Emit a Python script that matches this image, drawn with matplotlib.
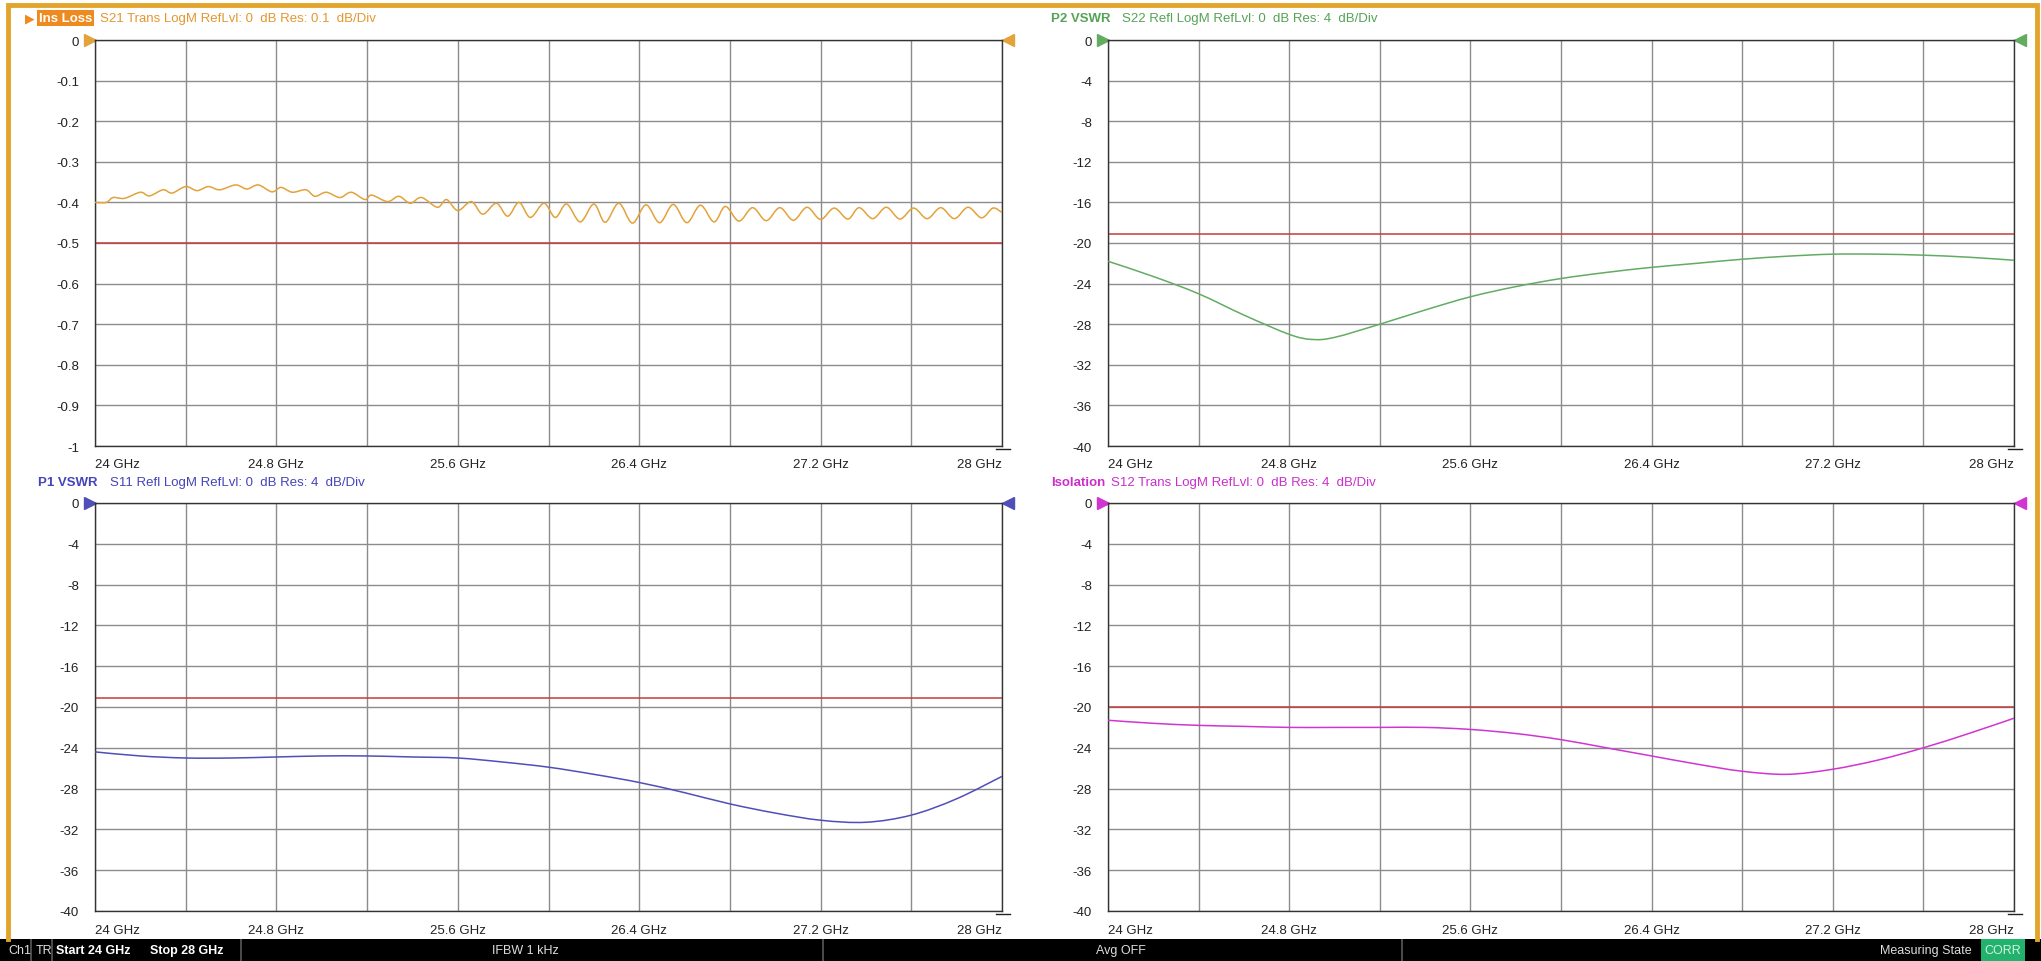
import matplotlib
matplotlib.use("Agg")
import matplotlib.pyplot as plt
from matplotlib.lines import Line2D
from matplotlib.patches import Rectangle, PathPatch
from matplotlib.path import Path
from matplotlib.transforms import ScaledTranslation

plt.rcParams['font.family'] = ['Liberation Sans', 'DejaVu Sans']

W, H = 2041, 962

# ---- data ----
ins_freq = [24.00, 24.05, 24.08, 24.13, 24.20, 24.24, 24.30, 24.34, 24.40, 24.45,
            24.50, 24.55, 24.62, 24.67, 24.72, 24.78, 24.82, 24.87, 24.93, 24.97,
            25.02, 25.08, 25.13, 25.19, 25.22, 25.29, 25.34, 25.39, 25.44, 25.51,
            25.55, 25.60, 25.66, 25.71, 25.77, 25.82, 25.87, 25.92, 25.98, 26.03,
            26.08, 26.14, 26.20, 26.25, 26.31, 26.37, 26.43, 26.49, 26.55, 26.61,
            26.67, 26.73, 26.78, 26.84, 26.90, 26.96, 27.02, 27.08, 27.14, 27.20,
            27.26, 27.32, 27.37, 27.43, 27.49, 27.55, 27.61, 27.67, 27.73, 27.79,
            27.85, 27.91, 27.96, 28.00]
ins_loss = [-0.400, -0.400, -0.388, -0.390, -0.375, -0.384, -0.369, -0.377, -0.361, -0.371,
            -0.361, -0.369, -0.357, -0.367, -0.357, -0.374, -0.363, -0.375, -0.369, -0.385,
            -0.375, -0.388, -0.375, -0.393, -0.382, -0.398, -0.385, -0.402, -0.388, -0.412,
            -0.393, -0.420, -0.398, -0.429, -0.402, -0.434, -0.400, -0.437, -0.402, -0.437,
            -0.404, -0.448, -0.404, -0.449, -0.402, -0.451, -0.406, -0.450, -0.405, -0.450,
            -0.407, -0.448, -0.410, -0.446, -0.413, -0.445, -0.413, -0.444, -0.412, -0.442,
            -0.414, -0.441, -0.413, -0.440, -0.412, -0.441, -0.414, -0.440, -0.413, -0.440,
            -0.412, -0.438, -0.414, -0.425]

s22_freq = [24.0, 24.2, 24.4, 24.6, 24.8, 24.9, 25.0, 25.2, 25.4, 25.6, 25.8, 26.0,
            26.2, 26.4, 26.6, 26.8, 27.0, 27.2, 27.4, 27.6, 27.8, 28.0]
s22 = [-21.8, -23.3, -25.0, -27.1, -29.0, -29.5, -29.3, -28.0, -26.6, -25.3, -24.3, -23.5,
       -22.9, -22.4, -22.0, -21.6, -21.3, -21.1, -21.1, -21.2, -21.4, -21.7]

freq = [24.0, 24.2, 24.4, 24.6, 24.8, 25.0, 25.2, 25.4, 25.6, 25.8, 26.0,
        26.2, 26.4, 26.6, 26.8, 27.0, 27.2, 27.4, 27.6, 27.8, 28.0]
s11 = [-24.4, -24.8, -25.0, -25.0, -24.9, -24.8, -24.8, -24.9, -25.0, -25.4, -25.9,
       -26.6, -27.4, -28.4, -29.5, -30.4, -31.1, -31.3, -30.6, -29.0, -26.8]
s12 = [-21.3, -21.6, -21.8, -21.9, -22.0, -22.0, -22.0, -22.0, -22.2, -22.6, -23.2,
       -24.0, -24.8, -25.6, -26.3, -26.6, -26.1, -25.2, -24.0, -22.6, -21.1]

limit_ins = -0.5
limit_s22 = -19.08
limit_s11 = -19.08
limit_s12 = -20.0

grid_x = [24.0, 24.4, 24.8, 25.2, 25.6, 26.0, 26.4, 26.8, 27.2, 27.6, 28.0]
freq_labels = ['24 GHz', '', '24.8 GHz', '', '25.6 GHz', '', '26.4 GHz', '',
               '27.2 GHz', '', '28 GHz']
ins_ticks = [0, -0.1, -0.2, -0.3, -0.4, -0.5, -0.6, -0.7, -0.8, -0.9, -1.0]
ins_labels = ['0', '-0.1', '-0.2', '-0.3', '-0.4', '-0.5', '-0.6', '-0.7', '-0.8', '-0.9', '-1']
db_ticks = [0, -4, -8, -12, -16, -20, -24, -28, -32, -36, -40]
db_labels = ['0', '-4', '-8', '-12', '-16', '-20', '-24', '-28', '-32', '-36', '-40']

FS = 9.5

fig = plt.figure(figsize=(W / 100, H / 100), dpi=100)
fig.patch.set_facecolor('white')


def add_panel(left, right, top, bottom):
    return fig.add_axes([left / W, 1 - bottom / H, (right - left) / W, (bottom - top) / H])


def smooth_trace(x, y):
    # Catmull-Rom style bezier through the measured points
    verts = [(x[0], y[0])]
    codes = [Path.MOVETO]
    n = len(x)
    for i in range(n - 1):
        xa, ya = (x[i - 1], y[i - 1]) if i > 0 else (x[i], y[i])
        xb, yb = (x[i + 2], y[i + 2]) if i + 2 < n else (x[i + 1], y[i + 1])
        verts.append((x[i] + (x[i + 1] - xa) / 6, y[i] + (y[i + 1] - ya) / 6))
        verts.append((x[i + 1] - (xb - x[i]) / 6, y[i + 1] - (yb - y[i]) / 6))
        verts.append((x[i + 1], y[i + 1]))
        codes += [Path.CURVE4] * 3
    return Path(verts, codes)


def style(ax, x, y, color, limit, yticks, ylabels, ylim):
    ax.add_patch(PathPatch(smooth_trace(x, y), fill=False, ec=color, lw=1.1, zorder=3))
    ax.axhline(limit, color='#C43C3C', lw=1.1, zorder=2)
    ax.set_xlim(24, 28)
    ax.set_ylim(*ylim)
    ax.set_xticks(grid_x)
    ax.set_xticklabels(freq_labels)
    ax.set_yticks(yticks)
    ax.set_yticklabels(ylabels)
    ax.grid(True, color='#8C8C8C', lw=1.0)
    ax.tick_params(length=0, labelsize=FS, labelcolor='#222222')
    ax.tick_params(axis='y', pad=11.5)
    ax.tick_params(axis='x', pad=9)
    lbls = ax.get_xticklabels()
    lbls[0].set_ha('left')
    lbls[-1].set_ha('right')
    for s in ax.spines.values():
        s.set_color('#333333')
        s.set_linewidth(1.0)
    # reference markers
    off_l = ScaledTranslation(-5.5 / 100, 0, fig.dpi_scale_trans)
    off_r = ScaledTranslation(5.5 / 100, 0, fig.dpi_scale_trans)
    ax.plot([0], [1], marker='>', ms=8, color=color, transform=ax.transAxes + off_l, clip_on=False)
    ax.plot([1], [1], marker='<', ms=8, color=color, transform=ax.transAxes + off_r, clip_on=False)


def title(name, desc, color, nx, dx, ty, box=None):
    if box:
        fig.text(nx / W, 1 - ty / H, name, fontsize=FS, fontweight='bold', color='white',
                 va='center', ha='left',
                 bbox=dict(boxstyle='square,pad=0.15', fc=box, ec='none'))
        fig.text((nx - 14) / W, 1 - ty / H, '\u25B6', fontsize=9, color=box,
                 va='center', ha='left', family=['DejaVu Sans'])
    else:
        fig.text(nx / W, 1 - ty / H, name, fontsize=FS, fontweight='bold', color=color,
                 va='center', ha='left')
    fig.text(dx / W, 1 - ty / H, desc, fontsize=FS, color=color, va='center', ha='left')


L1, R1, L2, R2 = 95, 1002, 1108, 2014
T1, B1, T2, B2 = 41, 447, 504, 912

ax1 = add_panel(L1, R1, T1, B1)
style(ax1, ins_freq, ins_loss, '#E3A23A', limit_ins, ins_ticks, ins_labels, (-1, 0))
title('Ins Loss', 'S21 Trans LogM RefLvl: 0  dB Res: 0.1  dB/Div', '#E3972F', 39, 100, 19,
      box='#EE8A1E')

ax2 = add_panel(L2, R2, T1, B1)
style(ax2, s22_freq, s22, '#62AC62', limit_s22, db_ticks, db_labels, (-40, 0))
title('P2 VSWR', 'S22 Refl LogM RefLvl: 0  dB Res: 4  dB/Div', '#55A355', 1051, 1122, 19)

ax3 = add_panel(L1, R1, T2, B2)
style(ax3, freq, s11, '#4F4FB8', limit_s11, db_ticks, db_labels, (-40, 0))
title('P1 VSWR', 'S11 Refl LogM RefLvl: 0  dB Res: 4  dB/Div', '#4444BB', 38, 110, 483)

ax4 = add_panel(L2, R2, T2, B2)
style(ax4, freq, s12, '#D135D1', limit_s12, db_ticks, db_labels, (-40, 0))
title('Isolation', 'S12 Trans LogM RefLvl: 0  dB Res: 4  dB/Div', '#CC2ECC', 1051, 1111, 483)

# small end-of-sweep marks at the bottom right corners
for r, b in [(R1, B1), (R2, B1), (R1, B2), (R2, B2)]:
    fig.add_artist(Line2D([(r - 6) / W, (r + 8) / W], [1 - (b + 3) / H] * 2,
                          transform=fig.transFigure, color='#222222', lw=1.0))

# orange window frame (left, top, right)
frame_x = [8 / W, 8 / W, 2037 / W, 2037 / W]
frame_y = [1 - 940 / H, 1 - 6 / H, 1 - 6 / H, 1 - 940 / H]
fig.add_artist(Line2D(frame_x, frame_y, transform=fig.transFigure, color='#E2A52C', lw=3.5,
                      solid_joinstyle='miter'))

# status bar
sb = fig.add_axes([0, 0, 1, 22 / H])
sb.set_xlim(0, W)
sb.set_ylim(0, 22)
sb.set_facecolor('black')
sb.set_xticks([])
sb.set_yticks([])
for s in sb.spines.values():
    s.set_visible(False)
for xd in [31, 52, 241, 823, 1402]:
    sb.axvline(xd, color='#5A5A5A', lw=1.2)
SFS = 9
sb.text(8, 10.5, 'Ch1', color='#DDDDDD', fontsize=SFS, va='center')
sb.text(36, 10.5, 'TR', color='#DDDDDD', fontsize=SFS, va='center')
sb.text(56, 10.5, 'Start 24 GHz', color='white', fontsize=SFS, fontweight='bold', va='center')
sb.text(150, 10.5, 'Stop 28 GHz', color='white', fontsize=SFS, fontweight='bold', va='center')
sb.text(525, 10.5, 'IFBW 1 kHz', color='#DDDDDD', fontsize=SFS, va='center', ha='center')
sb.text(1121, 10.5, 'Avg OFF', color='#DDDDDD', fontsize=SFS, va='center', ha='center')
sb.text(1972, 10.5, 'Measuring State', color='#DDDDDD', fontsize=SFS, va='center', ha='right')
sb.add_patch(Rectangle((1981, 0), 44, 22, fc='#22B26E', ec='none'))
sb.text(2003, 10.5, 'CORR', color='#CFF3DF', fontsize=SFS, va='center', ha='center')

fig.savefig('out.png', dpi=100)
